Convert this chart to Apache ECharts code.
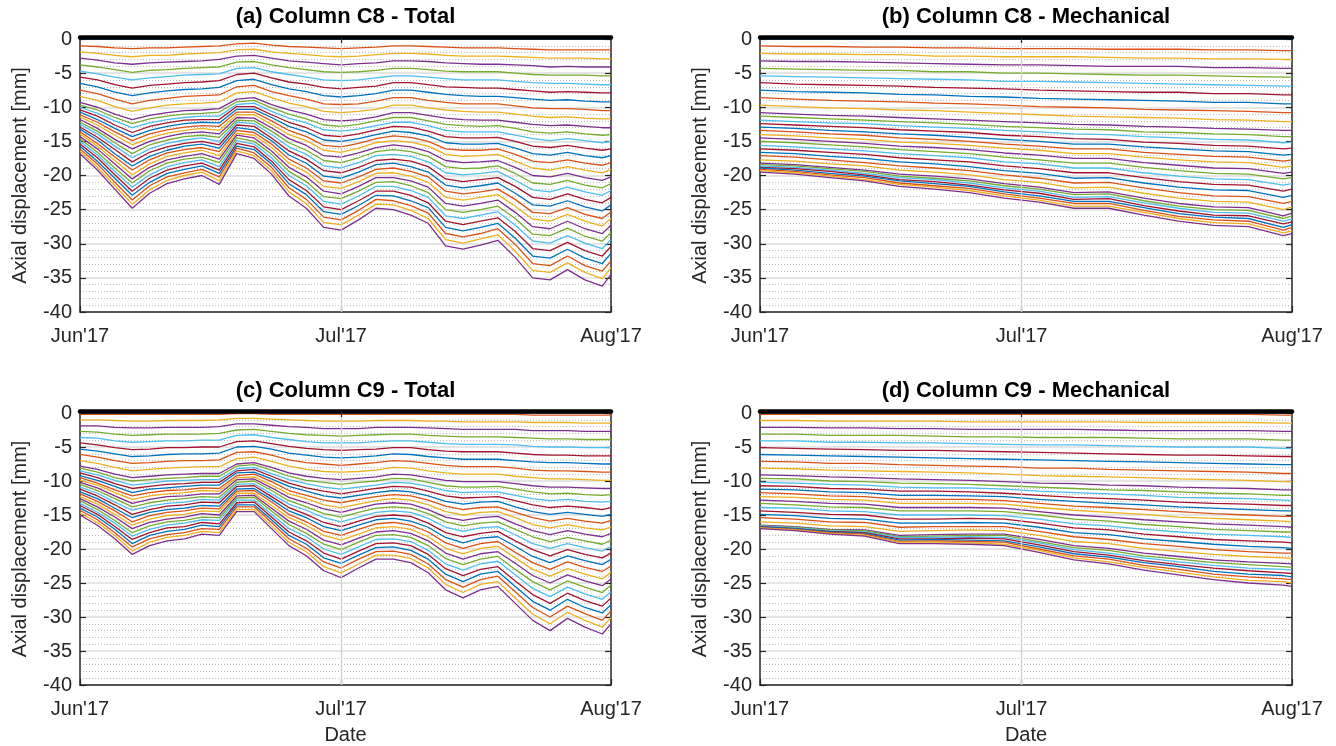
<!DOCTYPE html>
<html>
<head>
<meta charset="utf-8">
<title>Axial displacement C8 / C9</title>
<script src="https://cdn.jsdelivr.net/npm/echarts@6.0.0/dist/echarts.min.js"></script>
<style>
  html, body { margin: 0; padding: 0; background: #fff; }
  #main { width: 1336px; height: 746px; }
</style>
</head>
<body>
<div id="main"></div>
<script>
// x values are days since 1 Jun 2017
var monthTicks = [0, 30, 61];
var monthLabels = ["Jun'17", "Jul'17", "Aug'17"];
var lineColors = ['#0072BD', '#D95319', '#EDB120', '#7E2F8E', '#77AC30', '#4DBEEE', '#A2142F'];

// one row = displacement profile of the 32 sensors (top -> bottom) at one date
var c8TotalDays = [0, 2, 4, 6, 8, 10, 12, 14, 16, 18, 20, 22, 24, 26, 28, 30, 32, 34, 36, 38, 40, 42, 44, 46, 48, 50, 52, 54, 56, 58, 60, 61];
var c8TotalProfiles = [
  [0,-1.0,-1.9,-2.8,-3.8,-4.7,-5.6,-6.5,-7.5,-8.4,-9.3,-9.7,-10.0,-10.4,-10.7,-11.1,-11.4,-11.8,-12.2,-12.5,-12.9,-13.2,-13.6,-13.9,-14.3,-14.6,-15.0,-15.4,-15.7,-16.1,-16.4,-16.8],
  [0,-1.1,-2.1,-3.1,-4.1,-5.1,-6.0,-7.0,-8.0,-9.0,-10.0,-10.4,-10.9,-11.3,-11.8,-12.2,-12.6,-13.1,-13.5,-13.9,-14.4,-14.8,-15.3,-15.7,-16.1,-16.6,-17.0,-17.4,-17.9,-18.3,-18.8,-19.2],
  [0,-1.3,-2.4,-3.5,-4.5,-5.6,-6.7,-7.8,-8.8,-9.9,-11.0,-11.5,-12.0,-12.6,-13.1,-13.6,-14.1,-14.7,-15.2,-15.7,-16.2,-16.8,-17.3,-17.8,-18.3,-18.9,-19.4,-19.9,-20.4,-21.0,-21.5,-22.0],
  [0,-1.4,-2.6,-3.7,-4.9,-6.0,-7.2,-8.3,-9.5,-10.6,-11.8,-12.4,-13.0,-13.7,-14.3,-14.9,-15.5,-16.1,-16.8,-17.4,-18.0,-18.6,-19.2,-19.9,-20.5,-21.1,-21.7,-22.3,-22.9,-23.6,-24.2,-24.8],
  [0,-1.3,-2.4,-3.5,-4.6,-5.7,-6.8,-7.9,-9.0,-10.1,-11.2,-11.7,-12.3,-12.8,-13.4,-13.9,-14.5,-15.0,-15.5,-16.1,-16.6,-17.2,-17.7,-18.3,-18.8,-19.3,-19.9,-20.4,-21.0,-21.5,-22.1,-22.6],
  [0,-1.3,-2.4,-3.4,-4.5,-5.5,-6.6,-7.6,-8.7,-9.7,-10.8,-11.3,-11.8,-12.3,-12.8,-13.3,-13.8,-14.3,-14.8,-15.3,-15.8,-16.3,-16.7,-17.2,-17.7,-18.2,-18.7,-19.2,-19.7,-20.2,-20.7,-21.2],
  [0,-1.2,-2.2,-3.3,-4.3,-5.3,-6.4,-7.4,-8.4,-9.5,-10.5,-11.0,-11.5,-11.9,-12.4,-12.9,-13.4,-13.8,-14.3,-14.8,-15.3,-15.7,-16.2,-16.7,-17.2,-17.6,-18.1,-18.6,-19.1,-19.6,-20.0,-20.5],
  [0,-1.1,-2.1,-3.2,-4.2,-5.2,-6.3,-7.3,-8.3,-9.4,-10.4,-10.9,-11.3,-11.8,-12.2,-12.7,-13.1,-13.6,-14.1,-14.5,-15.0,-15.4,-15.9,-16.3,-16.8,-17.3,-17.7,-18.2,-18.6,-19.1,-19.5,-20.0],
  [0,-1.0,-2.0,-3.0,-4.1,-5.1,-6.1,-7.1,-8.2,-9.2,-10.2,-10.7,-11.3,-11.8,-12.3,-12.8,-13.4,-13.9,-14.4,-15.0,-15.5,-16.0,-16.5,-17.1,-17.6,-18.1,-18.7,-19.2,-19.7,-20.2,-20.8,-21.3],
  [0,-0.7,-1.6,-2.5,-3.4,-4.3,-5.2,-6.1,-7.0,-7.9,-8.8,-9.2,-9.6,-9.9,-10.3,-10.7,-11.1,-11.5,-11.9,-12.2,-12.6,-13.0,-13.4,-13.8,-14.1,-14.5,-14.9,-15.3,-15.7,-16.0,-16.4,-16.8],
  [0,-0.6,-1.5,-2.4,-3.3,-4.2,-5.0,-5.9,-6.8,-7.7,-8.6,-9.0,-9.4,-9.9,-10.3,-10.7,-11.1,-11.6,-12.0,-12.4,-12.8,-13.3,-13.7,-14.1,-14.5,-15.0,-15.4,-15.8,-16.2,-16.7,-17.1,-17.5],
  [0,-0.9,-1.9,-2.8,-3.8,-4.8,-5.7,-6.7,-7.7,-8.6,-9.6,-10.1,-10.6,-11.1,-11.5,-12.0,-12.5,-13.0,-13.5,-14.0,-14.5,-14.9,-15.4,-15.9,-16.4,-16.9,-17.4,-17.9,-18.3,-18.8,-19.3,-19.8],
  [0,-1.1,-2.1,-3.2,-4.2,-5.2,-6.3,-7.3,-8.3,-9.4,-10.4,-11.0,-11.6,-12.2,-12.8,-13.4,-14.0,-14.6,-15.2,-15.8,-16.4,-17.0,-17.6,-18.2,-18.8,-19.4,-20.0,-20.6,-21.2,-21.8,-22.4,-23.0],
  [0,-1.2,-2.3,-3.4,-4.5,-5.6,-6.6,-7.7,-8.8,-9.9,-11.0,-11.7,-12.3,-13.0,-13.6,-14.3,-14.9,-15.6,-16.3,-16.9,-17.6,-18.2,-18.9,-19.5,-20.2,-20.9,-21.5,-22.2,-22.8,-23.5,-24.1,-24.8],
  [0,-1.3,-2.5,-3.6,-4.8,-6.0,-7.1,-8.3,-9.5,-10.6,-11.8,-12.6,-13.3,-14.1,-14.8,-15.6,-16.3,-17.1,-17.8,-18.6,-19.3,-20.1,-20.8,-21.6,-22.3,-23.1,-23.8,-24.6,-25.3,-26.1,-26.9,-27.6],
  [0,-1.4,-2.6,-3.8,-4.9,-6.1,-7.3,-8.5,-9.6,-10.8,-12.0,-12.8,-13.5,-14.3,-15.0,-15.8,-16.6,-17.3,-18.1,-18.9,-19.6,-20.4,-21.1,-21.9,-22.7,-23.4,-24.2,-25.0,-25.7,-26.5,-27.2,-28.0],
  [0,-1.3,-2.5,-3.6,-4.8,-6.0,-7.1,-8.3,-9.5,-10.6,-11.8,-12.5,-13.2,-13.9,-14.6,-15.3,-16.0,-16.7,-17.4,-18.1,-18.8,-19.5,-20.2,-20.9,-21.6,-22.3,-23.0,-23.7,-24.4,-25.1,-25.8,-26.5],
  [0,-1.2,-2.3,-3.5,-4.6,-5.7,-6.9,-8.0,-9.1,-10.3,-11.4,-12.0,-12.7,-13.3,-14.0,-14.6,-15.2,-15.9,-16.5,-17.1,-17.8,-18.4,-19.1,-19.7,-20.3,-21.0,-21.6,-22.3,-22.9,-23.5,-24.2,-24.8],
  [0,-1.0,-2.1,-3.2,-4.3,-5.4,-6.4,-7.5,-8.6,-9.7,-10.8,-11.5,-12.2,-12.8,-13.5,-14.2,-14.9,-15.5,-16.2,-16.9,-17.6,-18.2,-18.9,-19.6,-20.3,-20.9,-21.6,-22.3,-23.0,-23.7,-24.3,-25.0],
  [0,-1.0,-2.1,-3.2,-4.3,-5.4,-6.4,-7.5,-8.6,-9.7,-10.8,-11.5,-12.2,-12.9,-13.7,-14.4,-15.1,-15.8,-16.5,-17.2,-17.9,-18.7,-19.4,-20.1,-20.8,-21.5,-22.2,-22.9,-23.7,-24.4,-25.1,-25.8],
  [0,-1.1,-2.2,-3.3,-4.5,-5.6,-6.7,-7.8,-9.0,-10.1,-11.2,-12.0,-12.7,-13.5,-14.2,-15.0,-15.7,-16.5,-17.2,-18.0,-18.7,-19.5,-20.2,-21.0,-21.7,-22.5,-23.2,-24.0,-24.7,-25.5,-26.3,-27.0],
  [0,-1.2,-2.4,-3.5,-4.7,-5.8,-7.0,-8.1,-9.3,-10.4,-11.6,-12.5,-13.4,-14.3,-15.2,-16.1,-16.9,-17.8,-18.7,-19.6,-20.5,-21.4,-22.3,-23.2,-24.1,-25.0,-25.9,-26.7,-27.6,-28.5,-29.4,-30.3],
  [0,-1.3,-2.5,-3.6,-4.8,-6.0,-7.1,-8.3,-9.5,-10.6,-11.8,-12.7,-13.6,-14.5,-15.4,-16.3,-17.2,-18.1,-19.0,-19.9,-20.9,-21.8,-22.7,-23.6,-24.5,-25.4,-26.3,-27.2,-28.1,-29.0,-29.9,-30.8],
  [0,-1.3,-2.5,-3.7,-4.8,-6.0,-7.2,-8.4,-9.5,-10.7,-11.9,-12.8,-13.6,-14.5,-15.4,-16.3,-17.1,-18.0,-18.9,-19.7,-20.6,-21.5,-22.4,-23.2,-24.1,-25.0,-25.8,-26.7,-27.6,-28.5,-29.3,-30.2],
  [0,-1.3,-2.5,-3.7,-4.8,-6.0,-7.2,-8.4,-9.5,-10.7,-11.9,-12.7,-13.6,-14.4,-15.3,-16.1,-16.9,-17.8,-18.6,-19.4,-20.3,-21.1,-22.0,-22.8,-23.6,-24.5,-25.3,-26.2,-27.0,-27.8,-28.7,-29.5],
  [0,-1.4,-2.6,-3.8,-5.0,-6.2,-7.4,-8.6,-9.8,-11.0,-12.2,-13.1,-14.1,-15.0,-16.0,-16.9,-17.9,-18.8,-19.7,-20.7,-21.6,-22.6,-23.5,-24.5,-25.4,-26.3,-27.3,-28.2,-29.2,-30.1,-31.1,-32.0],
  [0,-1.5,-2.7,-3.9,-5.2,-6.4,-7.6,-8.8,-10.1,-11.3,-12.5,-13.6,-14.6,-15.7,-16.8,-17.9,-18.9,-20.0,-21.1,-22.1,-23.2,-24.3,-25.4,-26.4,-27.5,-28.6,-29.6,-30.7,-31.8,-32.9,-33.9,-35.0],
  [0,-1.6,-2.8,-4.1,-5.3,-6.5,-7.8,-9.0,-10.2,-11.5,-12.7,-13.8,-14.9,-15.9,-17.0,-18.1,-19.2,-20.2,-21.3,-22.4,-23.5,-24.5,-25.6,-26.7,-27.8,-28.8,-29.9,-31.0,-32.1,-33.2,-34.2,-35.3],
  [0,-1.6,-2.8,-4.0,-5.3,-6.5,-7.7,-8.9,-10.2,-11.4,-12.6,-13.6,-14.6,-15.6,-16.6,-17.7,-18.7,-19.7,-20.7,-21.7,-22.7,-23.7,-24.7,-25.7,-26.7,-27.7,-28.8,-29.8,-30.8,-31.8,-32.8,-33.8],
  [0,-1.6,-2.8,-4.1,-5.3,-6.6,-7.8,-9.1,-10.3,-11.6,-12.8,-13.9,-14.9,-16.0,-17.1,-18.2,-19.2,-20.3,-21.4,-22.4,-23.5,-24.6,-25.7,-26.7,-27.8,-28.9,-29.9,-31.0,-32.1,-33.2,-34.2,-35.3],
  [0,-1.6,-2.9,-4.1,-5.4,-6.7,-7.9,-9.2,-10.5,-11.7,-13.0,-14.1,-15.2,-16.3,-17.4,-18.5,-19.6,-20.7,-21.8,-22.9,-24.0,-25.2,-26.3,-27.4,-28.5,-29.6,-30.7,-31.8,-32.9,-34.0,-35.1,-36.2],
  [0,-1.6,-2.9,-4.1,-5.4,-6.7,-7.9,-9.2,-10.5,-11.7,-13.0,-14.0,-15.0,-16.1,-17.1,-18.1,-19.1,-20.2,-21.2,-22.2,-23.2,-24.3,-25.3,-26.3,-27.3,-28.4,-29.4,-30.4,-31.4,-32.5,-33.5,-34.5]
];

var c8MechDays = [0, 4, 8, 12, 16, 20, 24, 28, 32, 36, 40, 44, 48, 52, 56, 60, 61];
var c8MechProfiles = [
  [0,-1.0,-2.1,-3.2,-4.3,-5.4,-6.4,-7.5,-8.6,-9.7,-10.8,-11.3,-11.9,-12.4,-12.9,-13.4,-14.0,-14.5,-15.0,-15.6,-16.1,-16.6,-17.1,-17.7,-18.2,-18.4,-18.6,-18.8,-18.9,-19.1,-19.3,-19.5],
  [0,-1.1,-2.2,-3.3,-4.4,-5.5,-6.6,-7.7,-8.8,-9.9,-11.0,-11.5,-12.1,-12.6,-13.1,-13.6,-14.2,-14.7,-15.2,-15.8,-16.3,-16.8,-17.3,-17.9,-18.4,-18.6,-18.8,-19.0,-19.2,-19.4,-19.6,-19.8],
  [0,-1.1,-2.2,-3.3,-4.5,-5.6,-6.7,-7.8,-9.0,-10.1,-11.2,-11.7,-12.3,-12.8,-13.4,-13.9,-14.5,-15.0,-15.5,-16.1,-16.6,-17.2,-17.7,-18.3,-18.8,-19.0,-19.2,-19.4,-19.7,-19.9,-20.1,-20.3],
  [0,-1.2,-2.3,-3.4,-4.6,-5.7,-6.8,-7.9,-9.1,-10.2,-11.3,-11.9,-12.4,-13.0,-13.6,-14.1,-14.7,-15.3,-15.8,-16.4,-16.9,-17.5,-18.1,-18.6,-19.2,-19.4,-19.7,-19.9,-20.1,-20.3,-20.6,-20.8],
  [0,-1.2,-2.3,-3.5,-4.6,-5.8,-6.9,-8.1,-9.2,-10.4,-11.5,-12.1,-12.7,-13.3,-13.9,-14.5,-15.1,-15.7,-16.2,-16.8,-17.4,-18.0,-18.6,-19.2,-19.8,-20.1,-20.3,-20.6,-20.8,-21.1,-21.3,-21.6],
  [0,-1.3,-2.5,-3.6,-4.8,-5.9,-7.1,-8.2,-9.4,-10.5,-11.7,-12.3,-12.9,-13.5,-14.1,-14.7,-15.3,-15.9,-16.5,-17.1,-17.7,-18.3,-18.9,-19.5,-20.1,-20.4,-20.6,-20.9,-21.2,-21.5,-21.7,-22.0],
  [0,-1.3,-2.5,-3.7,-4.8,-6.0,-7.2,-8.4,-9.5,-10.7,-11.9,-12.5,-13.1,-13.7,-14.4,-15.0,-15.6,-16.2,-16.8,-17.4,-18.0,-18.7,-19.3,-19.9,-20.5,-20.8,-21.1,-21.4,-21.6,-21.9,-22.2,-22.5],
  [0,-1.4,-2.6,-3.8,-5.0,-6.2,-7.3,-8.5,-9.7,-10.9,-12.1,-12.8,-13.4,-14.1,-14.7,-15.4,-16.0,-16.7,-17.3,-18.0,-18.6,-19.3,-19.9,-20.6,-21.2,-21.5,-21.8,-22.1,-22.4,-22.7,-23.0,-23.3],
  [0,-1.4,-2.6,-3.8,-5.0,-6.2,-7.5,-8.7,-9.9,-11.1,-12.3,-13.0,-13.6,-14.3,-15.0,-15.7,-16.3,-17.0,-17.7,-18.3,-19.0,-19.7,-20.4,-21.0,-21.7,-22.0,-22.3,-22.6,-23.0,-23.3,-23.6,-23.9],
  [0,-1.4,-2.6,-3.9,-5.1,-6.3,-7.6,-8.8,-10.0,-11.3,-12.5,-13.2,-13.9,-14.6,-15.4,-16.1,-16.8,-17.5,-18.2,-18.9,-19.6,-20.4,-21.1,-21.8,-22.5,-22.8,-23.2,-23.5,-23.8,-24.1,-24.5,-24.8],
  [0,-1.5,-2.7,-4.0,-5.2,-6.4,-7.7,-8.9,-10.1,-11.4,-12.6,-13.3,-14.0,-14.7,-15.4,-16.1,-16.8,-17.5,-18.2,-18.9,-19.6,-20.3,-21.0,-21.7,-22.4,-22.7,-23.1,-23.4,-23.8,-24.1,-24.5,-24.8],
  [0,-1.5,-2.8,-4.0,-5.3,-6.5,-7.8,-9.0,-10.3,-11.5,-12.8,-13.6,-14.3,-15.1,-15.8,-16.6,-17.3,-18.1,-18.8,-19.6,-20.3,-21.1,-21.8,-22.6,-23.3,-23.7,-24.0,-24.4,-24.7,-25.1,-25.4,-25.8],
  [0,-1.5,-2.8,-4.0,-5.3,-6.6,-7.8,-9.1,-10.4,-11.6,-12.9,-13.7,-14.5,-15.3,-16.1,-16.9,-17.7,-18.5,-19.3,-20.1,-20.9,-21.7,-22.5,-23.3,-24.1,-24.5,-24.8,-25.2,-25.6,-26.0,-26.3,-26.7],
  [0,-1.6,-2.9,-4.2,-5.4,-6.7,-8.0,-9.3,-10.5,-11.8,-13.1,-13.9,-14.7,-15.6,-16.4,-17.2,-18.0,-18.9,-19.7,-20.5,-21.3,-22.1,-23.0,-23.8,-24.6,-25.0,-25.4,-25.8,-26.1,-26.5,-26.9,-27.3],
  [0,-1.6,-2.9,-4.2,-5.5,-6.8,-8.0,-9.3,-10.6,-11.9,-13.2,-14.0,-14.8,-15.7,-16.5,-17.3,-18.1,-19.0,-19.8,-20.6,-21.4,-22.2,-23.1,-23.9,-24.7,-25.1,-25.5,-25.9,-26.3,-26.7,-27.1,-27.5],
  [0,-1.7,-3.0,-4.3,-5.6,-6.9,-8.2,-9.5,-10.8,-12.1,-13.4,-14.3,-15.2,-16.1,-17.0,-17.9,-18.8,-19.7,-20.5,-21.4,-22.3,-23.2,-24.1,-25.0,-25.9,-26.3,-26.7,-27.1,-27.6,-28.0,-28.4,-28.8],
  [0,-1.7,-3.0,-4.3,-5.6,-6.9,-8.2,-9.5,-10.8,-12.1,-13.4,-14.3,-15.1,-16.0,-16.9,-17.7,-18.6,-19.5,-20.3,-21.2,-22.0,-22.9,-23.8,-24.6,-25.5,-25.9,-26.4,-26.8,-27.2,-27.6,-28.1,-28.5]
];

var c9TotalDays = [0, 2, 4, 6, 8, 10, 12, 14, 16, 18, 20, 22, 24, 26, 28, 30, 32, 34, 36, 38, 40, 42, 44, 46, 48, 50, 52, 54, 56, 58, 60, 61];
var c9TotalProfiles = [
  [0,-0.2,-1.0,-1.9,-2.7,-3.6,-4.4,-5.3,-6.1,-7.0,-7.8,-8.1,-8.5,-8.8,-9.2,-9.5,-9.9,-10.2,-10.5,-10.9,-11.2,-11.6,-11.9,-12.3,-12.6,-12.9,-13.3,-13.6,-14.0,-14.3,-14.7,-15.0],
  [0,-0.2,-1.0,-1.9,-2.8,-3.7,-4.7,-5.6,-6.5,-7.4,-8.3,-8.7,-9.1,-9.5,-9.9,-10.3,-10.6,-11.0,-11.4,-11.8,-12.2,-12.6,-13.0,-13.4,-13.8,-14.2,-14.6,-14.9,-15.3,-15.7,-16.1,-16.5],
  [0,-0.2,-1.1,-2.1,-3.1,-4.1,-5.1,-6.0,-7.0,-8.0,-9.0,-9.5,-9.9,-10.4,-10.8,-11.3,-11.7,-12.2,-12.6,-13.1,-13.5,-14.0,-14.4,-14.9,-15.3,-15.8,-16.2,-16.7,-17.1,-17.6,-18.0,-18.5],
  [0,-0.2,-1.2,-2.2,-3.3,-4.3,-5.4,-6.4,-7.4,-8.5,-9.5,-10.0,-10.6,-11.1,-11.7,-12.2,-12.7,-13.3,-13.8,-14.3,-14.9,-15.4,-16.0,-16.5,-17.0,-17.6,-18.1,-18.6,-19.2,-19.7,-20.3,-20.8],
  [0,-0.2,-1.2,-2.2,-3.2,-4.2,-5.3,-6.3,-7.3,-8.3,-9.3,-9.8,-10.3,-10.8,-11.2,-11.7,-12.2,-12.7,-13.2,-13.7,-14.2,-14.6,-15.1,-15.6,-16.1,-16.6,-17.1,-17.6,-18.0,-18.5,-19.0,-19.5],
  [0,-0.2,-1.1,-2.1,-3.1,-4.1,-5.1,-6.1,-7.1,-8.1,-9.1,-9.6,-10.0,-10.5,-11.0,-11.4,-11.9,-12.3,-12.8,-13.3,-13.7,-14.2,-14.6,-15.1,-15.6,-16.0,-16.5,-16.9,-17.4,-17.9,-18.3,-18.8],
  [0,-0.2,-1.1,-2.1,-3.1,-4.1,-5.1,-6.0,-7.0,-8.0,-9.0,-9.5,-9.9,-10.4,-10.8,-11.3,-11.7,-12.2,-12.6,-13.1,-13.5,-14.0,-14.4,-14.9,-15.3,-15.8,-16.2,-16.7,-17.1,-17.6,-18.0,-18.5],
  [0,-0.2,-1.1,-2.1,-3.1,-4.0,-5.0,-6.0,-7.0,-7.9,-8.9,-9.3,-9.8,-10.2,-10.6,-11.0,-11.4,-11.9,-12.3,-12.7,-13.1,-13.6,-14.0,-14.4,-14.8,-15.3,-15.7,-16.1,-16.5,-17.0,-17.4,-17.8],
  [0,-0.2,-1.0,-2.0,-3.0,-4.0,-5.0,-5.9,-6.9,-7.9,-8.9,-9.3,-9.8,-10.2,-10.6,-11.1,-11.5,-11.9,-12.4,-12.8,-13.2,-13.7,-14.1,-14.5,-15.0,-15.4,-15.8,-16.3,-16.7,-17.1,-17.6,-18.0],
  [0,-0.1,-0.8,-1.6,-2.5,-3.3,-4.2,-5.0,-5.8,-6.7,-7.5,-7.8,-8.2,-8.5,-8.8,-9.2,-9.5,-9.8,-10.2,-10.5,-10.8,-11.2,-11.5,-11.8,-12.2,-12.5,-12.8,-13.2,-13.5,-13.8,-14.2,-14.5],
  [0,-0.1,-0.8,-1.6,-2.4,-3.2,-4.1,-4.9,-5.7,-6.5,-7.3,-7.6,-8.0,-8.3,-8.7,-9.0,-9.4,-9.7,-10.0,-10.4,-10.7,-11.1,-11.4,-11.8,-12.1,-12.4,-12.8,-13.1,-13.5,-13.8,-14.2,-14.5],
  [0,-0.2,-0.9,-1.8,-2.7,-3.6,-4.5,-5.3,-6.2,-7.1,-8.0,-8.4,-8.9,-9.3,-9.7,-10.1,-10.6,-11.0,-11.4,-11.9,-12.3,-12.7,-13.1,-13.6,-14.0,-14.4,-14.9,-15.3,-15.7,-16.1,-16.6,-17.0],
  [0,-0.2,-1.0,-2.0,-3.0,-3.9,-4.9,-5.9,-6.9,-7.8,-8.8,-9.3,-9.8,-10.3,-10.8,-11.4,-11.9,-12.4,-12.9,-13.4,-13.9,-14.4,-14.9,-15.4,-15.9,-16.4,-17.0,-17.5,-18.0,-18.5,-19.0,-19.5],
  [0,-0.2,-1.1,-2.1,-3.2,-4.2,-5.2,-6.2,-7.3,-8.3,-9.3,-9.9,-10.4,-11.0,-11.5,-12.1,-12.6,-13.2,-13.8,-14.3,-14.9,-15.4,-16.0,-16.5,-17.1,-17.7,-18.2,-18.8,-19.3,-19.9,-20.4,-21.0],
  [0,-0.2,-1.2,-2.3,-3.3,-4.4,-5.4,-6.5,-7.5,-8.6,-9.6,-10.2,-10.9,-11.5,-12.2,-12.8,-13.5,-14.1,-14.8,-15.4,-16.1,-16.7,-17.4,-18.0,-18.7,-19.3,-20.0,-20.6,-21.3,-21.9,-22.6,-23.2],
  [0,-0.2,-1.2,-2.3,-3.4,-4.4,-5.5,-6.6,-7.7,-8.7,-9.8,-10.5,-11.2,-11.9,-12.5,-13.2,-13.9,-14.6,-15.3,-16.0,-16.7,-17.3,-18.0,-18.7,-19.4,-20.1,-20.8,-21.5,-22.1,-22.8,-23.5,-24.2],
  [0,-0.2,-1.2,-2.3,-3.3,-4.4,-5.4,-6.5,-7.5,-8.6,-9.6,-10.2,-10.9,-11.5,-12.1,-12.7,-13.4,-14.0,-14.6,-15.3,-15.9,-16.5,-17.1,-17.8,-18.4,-19.0,-19.7,-20.3,-20.9,-21.5,-22.2,-22.8],
  [0,-0.2,-1.1,-2.1,-3.2,-4.2,-5.3,-6.3,-7.3,-8.4,-9.4,-10.0,-10.6,-11.1,-11.7,-12.3,-12.9,-13.4,-14.0,-14.6,-15.2,-15.7,-16.3,-16.9,-17.5,-18.0,-18.6,-19.2,-19.8,-20.4,-20.9,-21.5],
  [0,-0.2,-1.1,-2.1,-3.1,-4.1,-5.1,-6.0,-7.0,-8.0,-9.0,-9.6,-10.2,-10.8,-11.4,-12.0,-12.6,-13.2,-13.8,-14.4,-15.0,-15.5,-16.1,-16.7,-17.3,-17.9,-18.5,-19.1,-19.7,-20.3,-20.9,-21.5],
  [0,-0.2,-1.1,-2.1,-3.1,-4.1,-5.1,-6.1,-7.1,-8.1,-9.1,-9.7,-10.3,-10.9,-11.6,-12.2,-12.8,-13.4,-14.0,-14.6,-15.2,-15.9,-16.5,-17.1,-17.7,-18.3,-18.9,-19.5,-20.2,-20.8,-21.4,-22.0],
  [0,-0.2,-1.2,-2.2,-3.3,-4.3,-5.4,-6.4,-7.4,-8.5,-9.5,-10.2,-10.8,-11.5,-12.2,-12.8,-13.5,-14.2,-14.8,-15.5,-16.2,-16.8,-17.5,-18.2,-18.8,-19.5,-20.2,-20.8,-21.5,-22.2,-22.8,-23.5],
  [0,-0.2,-1.2,-2.3,-3.4,-4.5,-5.6,-6.6,-7.7,-8.8,-9.9,-10.7,-11.4,-12.2,-13.0,-13.7,-14.5,-15.3,-16.0,-16.8,-17.6,-18.3,-19.1,-19.9,-20.6,-21.4,-22.2,-22.9,-23.7,-24.5,-25.2,-26.0],
  [0,-0.2,-1.3,-2.4,-3.5,-4.6,-5.7,-6.8,-7.9,-9.0,-10.1,-10.9,-11.7,-12.5,-13.4,-14.2,-15.0,-15.8,-16.6,-17.4,-18.2,-19.1,-19.9,-20.7,-21.5,-22.3,-23.1,-23.9,-24.8,-25.6,-26.4,-27.2],
  [0,-0.2,-1.3,-2.4,-3.5,-4.6,-5.7,-6.8,-7.9,-9.0,-10.1,-10.9,-11.6,-12.4,-13.1,-13.9,-14.6,-15.4,-16.2,-16.9,-17.7,-18.4,-19.2,-19.9,-20.7,-21.5,-22.2,-23.0,-23.7,-24.5,-25.2,-26.0],
  [0,-0.2,-1.3,-2.4,-3.5,-4.6,-5.7,-6.8,-7.9,-9.0,-10.1,-10.8,-11.6,-12.3,-13.0,-13.8,-14.5,-15.2,-16.0,-16.7,-17.4,-18.2,-18.9,-19.6,-20.4,-21.1,-21.8,-22.6,-23.3,-24.0,-24.8,-25.5],
  [0,-0.2,-1.3,-2.4,-3.6,-4.7,-5.9,-7.0,-8.1,-9.3,-10.4,-11.2,-12.1,-12.9,-13.8,-14.6,-15.4,-16.3,-17.1,-17.9,-18.8,-19.6,-20.5,-21.3,-22.1,-23.0,-23.8,-24.7,-25.5,-26.3,-27.2,-28.0],
  [0,-0.3,-1.4,-2.6,-3.7,-4.9,-6.1,-7.2,-8.4,-9.5,-10.7,-11.6,-12.6,-13.5,-14.5,-15.4,-16.4,-17.3,-18.2,-19.2,-20.1,-21.1,-22.0,-23.0,-23.9,-24.8,-25.8,-26.7,-27.7,-28.6,-29.6,-30.5],
  [0,-0.3,-1.4,-2.6,-3.8,-5.0,-6.2,-7.3,-8.5,-9.7,-10.9,-11.9,-12.9,-13.9,-14.9,-15.9,-16.9,-17.9,-18.9,-19.9,-21.0,-22.0,-23.0,-24.0,-25.0,-26.0,-27.0,-28.0,-29.0,-30.0,-31.0,-32.0],
  [0,-0.3,-1.4,-2.6,-3.8,-5.0,-6.2,-7.3,-8.5,-9.7,-10.9,-11.8,-12.7,-13.7,-14.6,-15.5,-16.4,-17.3,-18.3,-19.2,-20.1,-21.0,-21.9,-22.9,-23.8,-24.7,-25.6,-26.5,-27.4,-28.4,-29.3,-30.2],
  [0,-0.3,-1.5,-2.7,-3.9,-5.1,-6.3,-7.4,-8.6,-9.8,-11.0,-12.0,-13.0,-13.9,-14.9,-15.9,-16.9,-17.8,-18.8,-19.8,-20.8,-21.7,-22.7,-23.7,-24.7,-25.6,-26.6,-27.6,-28.6,-29.5,-30.5,-31.5],
  [0,-0.3,-1.5,-2.7,-3.9,-5.1,-6.3,-7.5,-8.7,-9.9,-11.1,-12.1,-13.1,-14.2,-15.2,-16.2,-17.2,-18.2,-19.3,-20.3,-21.3,-22.3,-23.3,-24.4,-25.4,-26.4,-27.4,-28.4,-29.4,-30.5,-31.5,-32.5],
  [0,-0.3,-1.5,-2.7,-3.9,-5.1,-6.3,-7.5,-8.7,-9.9,-11.1,-12.0,-13.0,-13.9,-14.9,-15.8,-16.8,-17.7,-18.7,-19.6,-20.6,-21.5,-22.5,-23.4,-24.4,-25.3,-26.3,-27.2,-28.2,-29.1,-30.1,-31.0]
];

var c9MechDays = [0, 4, 8, 12, 16, 20, 24, 28, 32, 36, 40, 44, 48, 52, 56, 60, 61];
var c9MechProfiles = [
  [0,-0.2,-1.1,-2.1,-3.1,-4.1,-5.1,-6.1,-7.1,-8.1,-9.1,-9.6,-10.2,-10.7,-11.2,-11.7,-12.3,-12.8,-13.3,-13.9,-14.4,-14.9,-15.4,-16.0,-16.5,-16.6,-16.6,-16.7,-16.8,-16.9,-16.9,-17.0],
  [0,-0.2,-1.1,-2.1,-3.1,-4.1,-5.2,-6.2,-7.2,-8.2,-9.2,-9.7,-10.3,-10.8,-11.3,-11.9,-12.4,-13.0,-13.5,-14.0,-14.6,-15.1,-15.6,-16.2,-16.7,-16.8,-16.9,-17.0,-17.0,-17.1,-17.2,-17.3],
  [0,-0.2,-1.2,-2.2,-3.3,-4.3,-5.3,-6.3,-7.4,-8.4,-9.4,-10.0,-10.5,-11.1,-11.6,-12.2,-12.7,-13.3,-13.8,-14.4,-14.9,-15.5,-16.0,-16.6,-17.1,-17.2,-17.3,-17.4,-17.5,-17.6,-17.7,-17.8],
  [0,-0.2,-1.2,-2.2,-3.3,-4.3,-5.4,-6.4,-7.4,-8.5,-9.5,-10.1,-10.6,-11.2,-11.7,-12.3,-12.8,-13.4,-13.9,-14.5,-15.0,-15.6,-16.1,-16.7,-17.2,-17.3,-17.5,-17.6,-17.7,-17.8,-18.0,-18.1],
  [0,-0.2,-1.2,-2.3,-3.3,-4.4,-5.5,-6.5,-7.6,-8.6,-9.7,-10.3,-10.9,-11.5,-12.1,-12.7,-13.3,-13.9,-14.4,-15.0,-15.6,-16.2,-16.8,-17.4,-18.0,-18.2,-18.3,-18.5,-18.7,-18.9,-19.0,-19.2],
  [0,-0.2,-1.2,-2.3,-3.4,-4.4,-5.5,-6.6,-7.7,-8.7,-9.8,-10.4,-11.0,-11.5,-12.1,-12.7,-13.3,-13.9,-14.4,-15.0,-15.6,-16.2,-16.7,-17.3,-17.9,-18.1,-18.3,-18.5,-18.6,-18.8,-19.0,-19.2],
  [0,-0.2,-1.3,-2.4,-3.5,-4.5,-5.6,-6.7,-7.8,-8.8,-9.9,-10.5,-11.0,-11.6,-12.2,-12.7,-13.3,-13.9,-14.4,-15.0,-15.5,-16.1,-16.7,-17.2,-17.8,-18.0,-18.2,-18.4,-18.7,-18.9,-19.1,-19.3],
  [0,-0.2,-1.3,-2.4,-3.5,-4.6,-5.7,-6.8,-7.9,-9.0,-10.1,-10.7,-11.2,-11.8,-12.3,-12.9,-13.4,-14.0,-14.5,-15.1,-15.6,-16.2,-16.7,-17.3,-17.8,-18.0,-18.3,-18.5,-18.8,-19.0,-19.3,-19.5],
  [0,-0.2,-1.3,-2.4,-3.6,-4.7,-5.8,-6.9,-8.1,-9.2,-10.3,-10.9,-11.5,-12.1,-12.7,-13.3,-13.9,-14.5,-15.0,-15.6,-16.2,-16.8,-17.4,-18.0,-18.6,-18.9,-19.1,-19.4,-19.7,-20.0,-20.2,-20.5],
  [0,-0.2,-1.3,-2.4,-3.6,-4.7,-5.9,-7.0,-8.1,-9.3,-10.4,-11.1,-11.7,-12.4,-13.0,-13.7,-14.3,-15.0,-15.6,-16.3,-16.9,-17.6,-18.2,-18.9,-19.5,-19.8,-20.1,-20.4,-20.7,-21.0,-21.3,-21.6],
  [0,-0.2,-1.3,-2.5,-3.6,-4.8,-6.0,-7.1,-8.3,-9.4,-10.6,-11.3,-11.9,-12.6,-13.3,-13.9,-14.6,-15.3,-15.9,-16.6,-17.2,-17.9,-18.6,-19.2,-19.9,-20.2,-20.6,-20.9,-21.2,-21.5,-21.9,-22.2],
  [0,-0.2,-1.4,-2.6,-3.7,-4.9,-6.1,-7.2,-8.4,-9.5,-10.7,-11.4,-12.1,-12.8,-13.5,-14.2,-14.9,-15.7,-16.4,-17.1,-17.8,-18.5,-19.2,-19.9,-20.6,-21.0,-21.3,-21.7,-22.0,-22.4,-22.7,-23.1],
  [0,-0.2,-1.4,-2.6,-3.8,-5.0,-6.2,-7.3,-8.5,-9.7,-10.9,-11.6,-12.4,-13.1,-13.8,-14.5,-15.3,-16.0,-16.7,-17.5,-18.2,-18.9,-19.6,-20.4,-21.1,-21.5,-21.9,-22.3,-22.6,-23.0,-23.4,-23.8],
  [0,-0.2,-1.4,-2.6,-3.8,-5.0,-6.2,-7.4,-8.6,-9.8,-11.0,-11.8,-12.5,-13.3,-14.0,-14.8,-15.5,-16.3,-17.1,-17.8,-18.6,-19.3,-20.1,-20.8,-21.6,-22.0,-22.4,-22.8,-23.3,-23.7,-24.1,-24.5],
  [0,-0.2,-1.4,-2.6,-3.8,-5.0,-6.3,-7.5,-8.7,-9.9,-11.1,-11.9,-12.6,-13.4,-14.2,-15.0,-15.7,-16.5,-17.3,-18.0,-18.8,-19.6,-20.4,-21.1,-21.9,-22.3,-22.8,-23.2,-23.7,-24.1,-24.6,-25.0],
  [0,-0.3,-1.5,-2.7,-4.0,-5.2,-6.4,-7.6,-8.9,-10.1,-11.3,-12.1,-12.8,-13.6,-14.4,-15.2,-15.9,-16.7,-17.5,-18.2,-19.0,-19.8,-20.6,-21.3,-22.1,-22.6,-23.0,-23.5,-23.9,-24.4,-24.8,-25.3],
  [0,-0.3,-1.5,-2.7,-4.0,-5.2,-6.4,-7.6,-8.9,-10.1,-11.3,-12.1,-12.9,-13.6,-14.4,-15.2,-16.0,-16.8,-17.5,-18.3,-19.1,-19.9,-20.6,-21.4,-22.2,-22.7,-23.1,-23.6,-24.1,-24.5,-25.0,-25.5]
];

var FONT = '"Liberation Sans", Arial, Helvetica, sans-serif';
var AX = '#262626';

// layout of the 4 subplots (pixels)
var panels = [
  { title: '(a) Column C8 - Total',      days: c8TotalDays, rows: c8TotalProfiles, left: 80,  top: 39,  width: 531, bottomRow: false },
  { title: '(b) Column C8 - Mechanical', days: c8MechDays,  rows: c8MechProfiles,  left: 760, top: 39,  width: 532, bottomRow: false },
  { title: '(c) Column C9 - Total',      days: c9TotalDays, rows: c9TotalProfiles, left: 80,  top: 413, width: 531, bottomRow: true },
  { title: '(d) Column C9 - Mechanical', days: c9MechDays,  rows: c9MechProfiles,  left: 760, top: 413, width: 532, bottomRow: true }
];
var plotHeight = 273;

var grids = [], xAxes = [], yAxes = [], series = [], titles = [];

panels.forEach(function (p, g) {
  grids.push({ left: p.left, top: p.top, width: p.width, height: plotHeight, containLabel: false });

  // bottom axis with month labels
  xAxes.push({
    gridIndex: g, type: 'value', min: 0, max: 61, position: 'bottom',
    axisLine: { onZero: false, lineStyle: { color: AX, width: 1.5 } },
    axisTick: { inside: true, length: 6, customValues: monthTicks, lineStyle: { color: AX, width: 1.2 } },
    axisLabel: {
      customValues: monthTicks, fontSize: 20, color: AX, margin: 14, fontFamily: FONT,
      formatter: function (v) { var i = monthTicks.indexOf(v); return i >= 0 ? monthLabels[i] : ''; }
    },
    splitLine: { show: false },
    name: p.bottomRow ? 'Date' : '', nameLocation: 'middle', nameGap: 40,
    nameTextStyle: { fontSize: 20, color: AX, fontFamily: FONT }
  });
  // top box edge (thick black line in the original)
  xAxes.push({
    gridIndex: g, type: 'value', min: 0, max: 61, position: 'top', offset: 2, z: 5,
    axisLine: { onZero: false, lineStyle: { color: '#000', width: 4.5 } },
    axisTick: { inside: true, length: 6, customValues: [30], lineStyle: { color: AX, width: 1.2 } },
    axisLabel: { show: false },
    splitLine: { show: false }
  });

  yAxes.push({
    gridIndex: g, type: 'value', min: -40, max: 0, interval: 5, position: 'left',
    axisLine: { show: true, onZero: false, lineStyle: { color: AX, width: 1.5 } },
    axisTick: { show: true, inside: true, length: 6, lineStyle: { color: AX, width: 1.2 } },
    axisLabel: { fontSize: 20, color: AX, margin: 8, fontFamily: FONT },
    splitLine: { show: true, lineStyle: { color: '#dddddd', width: 1.6 } },
    minorTick: { show: false, splitNumber: 5 },
    minorSplitLine: { show: true, lineStyle: { color: '#bcbcbc', width: 1, type: [1, 2] } },
    name: 'Axial displacement [mm]', nameLocation: 'middle', nameGap: 50,
    nameTextStyle: { fontSize: 20, color: AX, fontFamily: FONT }
  });
  yAxes.push({
    gridIndex: g, type: 'value', min: -40, max: 0, interval: 5, position: 'right',
    axisLine: { show: true, onZero: false, lineStyle: { color: AX, width: 1.5 } },
    axisTick: { show: true, inside: true, length: 6, lineStyle: { color: AX, width: 1.2 } },
    axisLabel: { show: false },
    splitLine: { show: false }
  });

  // one line per sensor, built from the profile table
  var nSensors = p.rows[0].length;
  for (var s = 0; s < nSensors; s++) {
    var col = lineColors[s % lineColors.length];
    var item = {
      type: 'line', xAxisIndex: g * 2, yAxisIndex: g * 2,
      showSymbol: false, symbol: 'none', silent: true, animation: false,
      lineStyle: { color: col, width: 1.3 }, itemStyle: { color: col },
      data: p.days.map(function (d, j) { return [d, p.rows[j][s]]; })
    };
    if (s === 0) {
      // vertical grid line at Jul'17
      item.markLine = {
        silent: true, symbol: 'none', animation: false, label: { show: false },
        lineStyle: { color: '#cfcfcf', type: 'solid', width: 1.3 },
        data: [{ xAxis: 30 }]
      };
    }
    series.push(item);
  }

  titles.push({
    type: 'text', x: p.left + p.width / 2, y: p.top - 22,
    style: { text: p.title, font: 'bold 22px ' + FONT, fill: '#000', align: 'center', verticalAlign: 'middle' }
  });
});

var chart = echarts.init(document.getElementById('main'), null, { renderer: 'canvas' });
var option = {
  backgroundColor: '#fff',
  animation: false,
  textStyle: { fontFamily: FONT },
  grid: grids,
  xAxis: xAxes,
  yAxis: yAxes,
  series: series,
  graphic: titles
};
chart.setOption(option);
</script>
</body>
</html>
